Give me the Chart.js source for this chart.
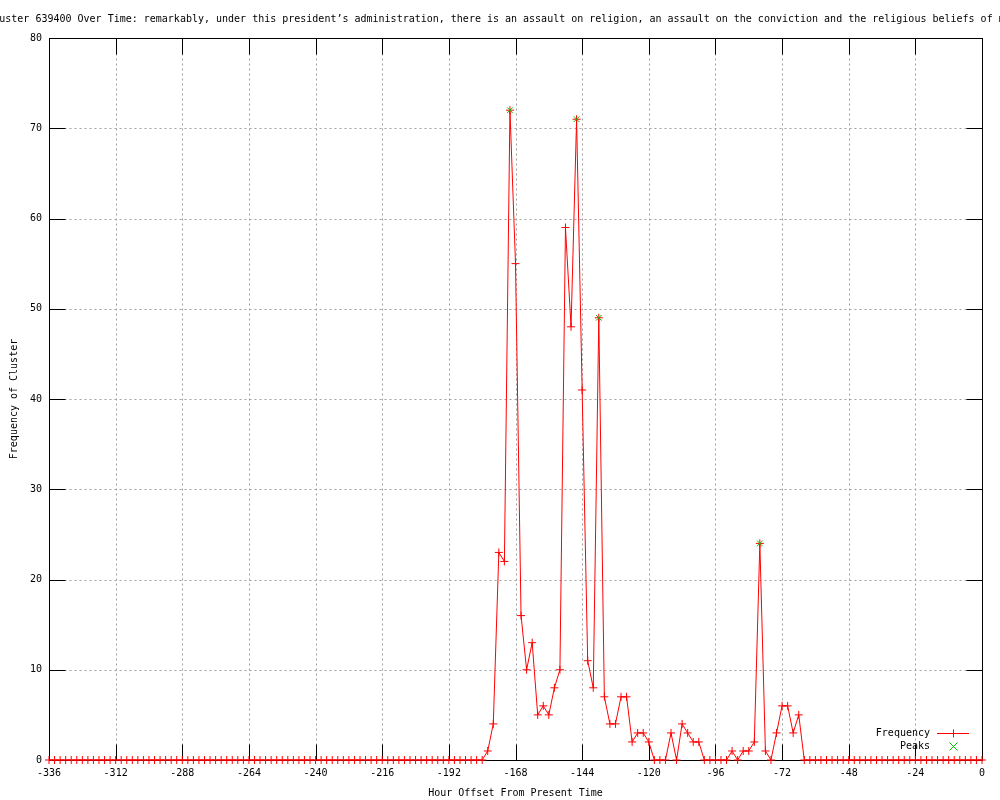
<!DOCTYPE html>
<html>
<head>
<meta charset="utf-8">
<script src="https://cdn.jsdelivr.net/npm/chart.js@4"></script>
<style>
  body { margin: 0; background: #fff; }
  canvas { display: block; }
</style>
</head>
<body>
<canvas id="clusterChart" width="1000" height="800"></canvas>
<script>
const titleText = "Cluster 639400 Over Time: remarkably, under this president\u2019s administration, there is an assault on religion, an assault on the conviction and the religious beliefs of millions of Americans";
const xTitle = "Hour Offset From Present Time";
const yTitle = "Frequency of Cluster";

// hour offsets, one sample every 2 hours
const hours = [
  -336,-334,-332,-330,-328,-326,-324,-322,-320,-318,-316,-314,
  -312,-310,-308,-306,-304,-302,-300,-298,-296,-294,-292,-290,
  -288,-286,-284,-282,-280,-278,-276,-274,-272,-270,-268,-266,
  -264,-262,-260,-258,-256,-254,-252,-250,-248,-246,-244,-242,
  -240,-238,-236,-234,-232,-230,-228,-226,-224,-222,-220,-218,
  -216,-214,-212,-210,-208,-206,-204,-202,-200,-198,-196,-194,
  -192,-190,-188,-186,-184,-182,-180,-178,-176,-174,-172,-170,
  -168,-166,-164,-162,-160,-158,-156,-154,-152,-150,-148,-146,
  -144,-142,-140,-138,-136,-134,-132,-130,-128,-126,-124,-122,
  -120,-118,-116,-114,-112,-110,-108,-106,-104,-102,-100,-98,
  -96,-94,-92,-90,-88,-86,-84,-82,-80,-78,-76,-74,
  -72,-70,-68,-66,-64,-62,-60,-58,-56,-54,-52,-50,
  -48,-46,-44,-42,-40,-38,-36,-34,-32,-30,-28,-26,
  -24,-22,-20,-18,-16,-14,-12,-10,-8,-6,-4,-2,
  0
];
const frequency = [
  0,0,0,0,0,0,0,0,0,0,0,0,
  0,0,0,0,0,0,0,0,0,0,0,0,
  0,0,0,0,0,0,0,0,0,0,0,0,
  0,0,0,0,0,0,0,0,0,0,0,0,
  0,0,0,0,0,0,0,0,0,0,0,0,
  0,0,0,0,0,0,0,0,0,0,0,0,
  0,0,0,0,0,0,0,1,4,23,22,72,
  55,16,10,13,5,6,5,8,10,59,48,71,
  41,11,8,49,7,4,4,7,7,2,3,3,
  2,0,0,0,3,0,4,3,2,2,0,0,
  0,0,0,1,0,1,1,2,24,1,0,3,
  6,6,3,5,0,0,0,0,0,0,0,0,
  0,0,0,0,0,0,0,0,0,0,0,0,
  0,0,0,0,0,0,0,0,0,0,0,0,
  0
];
const peakHours = [-170, -146, -138, -80];
const peakValues = [72, 71, 49, 24];

const xTickValues = [-336,-312,-288,-264,-240,-216,-192,-168,-144,-120,-96,-72,-48,-24,0];
const yTickValues = [0,10,20,30,40,50,60,70,80];

const RED = '#ff0000';
const GREEN = '#00c000';
const FONT = '10px "DejaVu Sans Mono"';
Chart.defaults.font.family = '"DejaVu Sans Mono"';
Chart.defaults.font.size = 10;
Chart.defaults.color = '#000';

function line(ctx, x1, y1, x2, y2) {
  ctx.beginPath();
  ctx.moveTo(x1, y1);
  ctx.lineTo(x2, y2);
  ctx.stroke();
}

// gnuplot style frame: dotted grid, border box, mirrored inward ticks
const framePlugin = {
  id: 'frame',
  beforeDatasetsDraw(chart) {
    const { ctx, chartArea: a, scales: { x, y } } = chart;
    const L = Math.round(a.left) + 0.5, R = Math.round(a.right) + 0.5;
    const T = Math.round(a.top) + 0.5, B = Math.round(a.bottom) + 0.5;
    const tick = 16;
    ctx.save();
    ctx.lineWidth = 1;

    ctx.strokeStyle = '#a0a0a0';
    ctx.setLineDash([2, 3]);
    xTickValues.slice(1, -1).forEach(v => {
      const px = Math.round(x.getPixelForValue(v)) + 0.5;
      line(ctx, px, T, px, B);
    });
    yTickValues.slice(1, -1).forEach(v => {
      const py = Math.round(y.getPixelForValue(v)) + 0.5;
      line(ctx, L, py, R, py);
    });

    ctx.setLineDash([]);
    ctx.strokeStyle = '#000';
    xTickValues.forEach(v => {
      const px = Math.round(x.getPixelForValue(v)) + 0.5;
      line(ctx, px, B, px, B - tick);
      line(ctx, px, T, px, T + tick);
    });
    yTickValues.forEach(v => {
      const py = Math.round(y.getPixelForValue(v)) + 0.5;
      line(ctx, L, py, L + tick, py);
      line(ctx, R, py, R - tick, py);
    });
    ctx.strokeRect(L, T, R - L, B - T);
    ctx.restore();
  },
  afterDraw(chart) {
    const { ctx, chartArea: a } = chart;
    ctx.save();
    ctx.font = FONT;
    ctx.fillStyle = '#000';
    ctx.textBaseline = 'middle';

    // title runs off both edges of the canvas
    const prefix = titleText.slice(0, titleText.indexOf('an assault'));
    ctx.textAlign = 'left';
    ctx.fillText(titleText, 505 - ctx.measureText(prefix).width, 19);

    ctx.textAlign = 'center';
    ctx.fillText(xTitle, (a.left + a.right) / 2, 793);

    ctx.save();
    ctx.translate(14, (a.top + a.bottom) / 2);
    ctx.rotate(-Math.PI / 2);
    ctx.fillText(yTitle, 0, 0);
    ctx.restore();

    // key
    const keys = [
      { label: 'Frequency', color: RED, withLine: true, plus: true },
      { label: 'Peaks', color: GREEN, withLine: false, plus: false }
    ];
    const rows = [733, 746];
    keys.forEach((k, i) => {
      const yy = rows[i] + 0.5;
      ctx.textAlign = 'right';
      ctx.fillStyle = '#000';
      ctx.fillText(k.label, 930, rows[i]);
      ctx.strokeStyle = k.color;
      ctx.lineWidth = 1;
      if (k.withLine) line(ctx, 937, yy, 969, yy);
      const cx = 953.5, r = 4;
      if (k.plus) {
        line(ctx, cx - r, yy, cx + r, yy);
        line(ctx, cx, yy - r, cx, yy + r);
      } else {
        line(ctx, cx - r, yy - r, cx + r, yy + r);
        line(ctx, cx - r, yy + r, cx + r, yy - r);
      }
    });
    ctx.restore();
  }
};

const ctx = document.getElementById('clusterChart').getContext('2d');
new Chart(ctx, {
  type: 'line',
  data: {
    datasets: [
      {
        label: 'Frequency',
        data: hours.map((h, i) => ({ x: h, y: frequency[i] })),
        borderColor: RED,
        backgroundColor: RED,
        pointBorderColor: RED,
        borderWidth: 1,
        pointStyle: 'cross',
        pointRadius: 4,
        pointBorderWidth: 1,
        tension: 0,
        clip: false,
        order: 1
      },
      {
        label: 'Peaks',
        data: peakHours.map((h, i) => ({ x: h, y: peakValues[i] })),
        borderColor: GREEN,
        backgroundColor: GREEN,
        pointBorderColor: GREEN,
        showLine: false,
        pointStyle: 'crossRot',
        pointRadius: 4,
        pointBorderWidth: 1,
        clip: false,
        order: 0
      }
    ]
  },
  options: {
    responsive: false,
    animation: false,
    events: [],
    layout: { padding: { top: 38, right: 18, left: 0, bottom: 0 } },
    plugins: {
      legend: { display: false },
      tooltip: { enabled: false },
      title: { display: false }
    },
    scales: {
      x: {
        type: 'linear',
        min: -336,
        max: 0,
        afterBuildTicks: s => { s.ticks = xTickValues.map(v => ({ value: v })); },
        grid: { display: false, drawTicks: false },
        border: { display: false },
        ticks: { padding: 7, maxRotation: 0, autoSkip: false },
        afterFit: s => { s.height = 40; }
      },
      y: {
        min: 0,
        max: 80,
        afterBuildTicks: s => { s.ticks = yTickValues.map(v => ({ value: v })); },
        grid: { display: false, drawTicks: false },
        border: { display: false },
        ticks: { padding: 7 },
        afterFit: s => { s.width = 49; }
      }
    }
  },
  plugins: [framePlugin]
});
</script>
</body>
</html>
